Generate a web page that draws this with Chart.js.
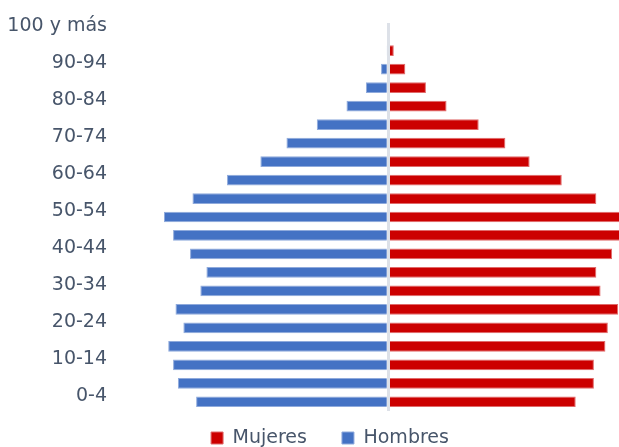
<!DOCTYPE html>
<html lang="es">
<head>
<meta charset="utf-8">
<title>Pirámide de población</title>
<script src="https://cdn.jsdelivr.net/npm/chart.js@4.4.1/dist/chart.umd.min.js"></script>
<style>
  html, body { margin: 0; padding: 0; background: #fff; }
  #frame { width: 619px; height: 447px; overflow: hidden; }
</style>
</head>
<body>
<div id="frame"><canvas id="pyramidChart" width="660" height="475"></canvas></div>
<script>
// ---------- DATA ----------
const grupos = ["0-4", "5-9", "10-14", "15-19", "20-24", "25-29", "30-34", "35-39",
  "40-44", "45-49", "50-54", "55-59", "60-64", "65-69", "70-74", "75-79",
  "80-84", "85-89", "90-94", "95-99", "100 y más"];

// % de la población (estimado de la imagen)
const mujeres = [3.09, 3.39, 3.39, 3.58, 3.62, 3.79, 3.50, 3.43, 3.69, 3.86, 3.89,
  3.43, 2.86, 2.33, 1.93, 1.49, 0.96, 0.62, 0.28, 0.09, 0.00];
const hombres = [3.17, 3.47, 3.55, 3.63, 3.38, 3.51, 3.10, 3.00, 3.27, 3.55, 3.70,
  3.23, 2.66, 2.11, 1.68, 1.18, 0.69, 0.37, 0.12, 0.02, 0.00];

// etiquetas visibles en el eje (una de cada dos)
const etiquetasEje = ["0-4", "10-14", "20-24", "30-34", "40-44", "50-54",
  "60-64", "70-74", "80-84", "90-94", "100 y más"];

const textColor = "#47556a";
const font = { family: "DejaVu Sans", size: 19 };

// ---------- CHART ----------
const ctx = document.getElementById("pyramidChart");
new Chart(ctx, {
  type: "bar",
  data: {
    labels: grupos,
    datasets: [
      {
        label: "Mujeres",
        data: mujeres,
        backgroundColor: "#cc0000",
        borderColor: "#e06a6a",
        borderWidth: 1,
        barPercentage: 0.58,
        categoryPercentage: 1,
      },
      {
        label: "Hombres",
        data: hombres.map((v) => -v), // lado izquierdo
        backgroundColor: "#4472c4",
        borderColor: "#8faadc",
        borderWidth: 1,
        barPercentage: 0.58,
        categoryPercentage: 1,
      },
    ],
  },
  options: {
    indexAxis: "y",
    responsive: false,
    animation: false,
    layout: { padding: { top: 23, left: 0, right: 0, bottom: 0 } },
    scales: {
      x: {
        stacked: true,
        min: -4.59,
        max: 4.48,
        ticks: { display: false, stepSize: 1 },
        border: { display: false },
        grid: {
          drawTicks: false,
          lineWidth: 3,
          z: 1,
          color: (c) => (c.tick && c.tick.value === 0 ? "#dde1e8" : "transparent"),
        },
        afterFit: (s) => { s.height = -17.5; }, // acerca la leyenda al gráfico
      },
      y: {
        stacked: true,
        reverse: true,
        afterFit: (s) => { s.width = 110; },
        grid: { display: false, drawTicks: false },
        border: { display: false },
        ticks: {
          autoSkip: false,
          padding: 3,
          labelOffset: -6,
          color: textColor,
          font: font,
          callback: function (value) {
            const l = this.getLabelForValue(value);
            return etiquetasEje.includes(l) ? l : "";
          },
        },
      },
    },
    plugins: {
      legend: {
        position: "bottom",
        labels: { boxWidth: 12, boxHeight: 12, padding: 35, color: textColor, font: font },
      },
      tooltip: { enabled: false },
    },
  },
});
</script>
</body>
</html>
